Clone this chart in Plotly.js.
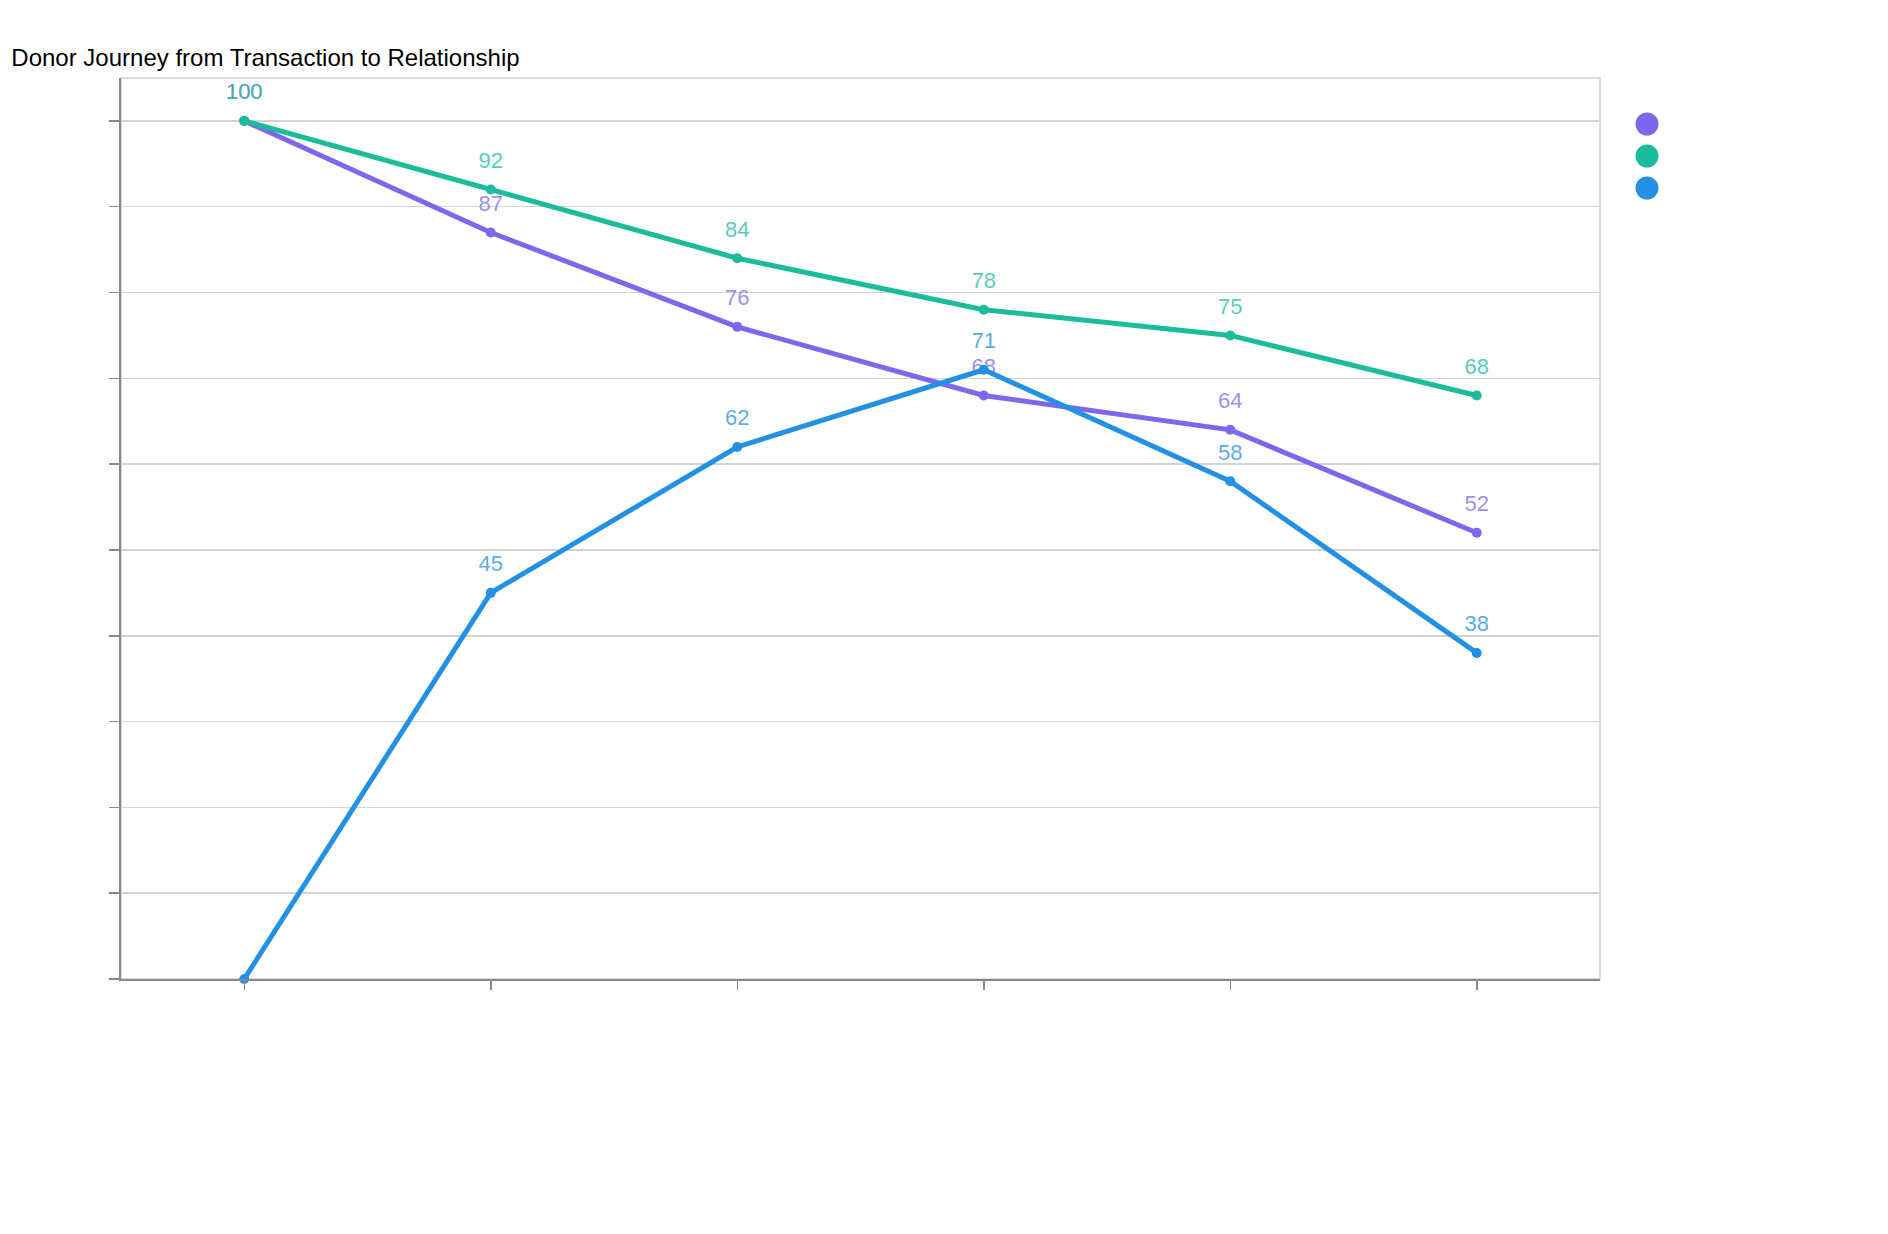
<!DOCTYPE html>
<html>
<head>
<meta charset="utf-8">
<script src="https://cdn.plot.ly/plotly-3.0.1.min.js"></script>
<style>html,body{margin:0;padding:0;background:#fff;}#chart{width:1888px;height:1234px;}</style>
</head>
<body>
<div id="chart"></div>
<script>
// Journey stages (axis labels are not shown in the chart)
var stages = ["Stage 1", "Stage 2", "Stage 3", "Stage 4", "Stage 5", "Stage 6"];
var seriesNames = ["Retention", "Engagement", "Relationship"];
var seriesColors = ["#7B68EE", "#1ABC9C", "#2290E3"];
var textColors = ["rgba(123,104,238,0.75)", "rgba(26,188,156,0.75)", "rgba(34,144,227,0.75)"];
var retention = [100, 87, 76, 68, 64, 52];
var engagement = [100, 92, 84, 78, 75, 68];
var relationship = [0, 45, 62, 71, 58, 38];
var relationshipLabels = ["", "45", "62", "71", "58", "38"];

var values = [retention, engagement, relationship];
var labels = [retention.map(String), engagement.map(String), relationshipLabels];

var traces = [];
values.forEach(function (v, i) {
  traces.push({
    x: stages, y: v, name: seriesNames[i], type: "scatter", mode: "lines+markers",
    line: {color: seriesColors[i], width: 5},
    marker: {color: seriesColors[i], size: 10},
    cliponaxis: false, showlegend: false, hoverinfo: "x+y+name"
  });
  traces.push({
    x: stages, y: v, name: seriesNames[i], type: "scatter", mode: "markers+text",
    text: labels[i], textposition: "top center",
    textfont: {family: "Liberation Sans, Arial, sans-serif", size: 22, color: textColors[i]},
    marker: {color: "rgba(0,0,0,0)", size: 24},
    cliponaxis: false, showlegend: false, hoverinfo: "skip"
  });
});

var shapes = [{type: "rect", xref: "paper", yref: "paper", x0: 0, x1: 1, y0: 0, y1: 1,
  line: {color: "#dcdcdc", width: 2}, layer: "below"}];
seriesColors.forEach(function (c, i) {
  var cx = 1647, cy = 124 + i * 32, r = 11.5;
  shapes.push({type: "circle", xref: "paper", yref: "paper",
    x0: (cx - r - 121) / 1479, x1: (cx + r - 121) / 1479,
    y0: (979 - (cy + r)) / 901, y1: (979 - (cy - r)) / 901,
    fillcolor: c, line: {width: 0}});
});

var layout = {
  width: 1888, height: 1234,
  margin: {l: 121, r: 288, t: 78, b: 255},
  paper_bgcolor: "#fff", plot_bgcolor: "#fff",
  font: {family: "Liberation Sans, Arial, sans-serif", size: 16, color: "#000"},
  title: {text: "Donor Journey from Transaction to Relationship", x: 0.006, xanchor: "left",
    y: 0.953, yanchor: "middle", font: {size: 24, color: "#000"}},
  xaxis: {range: [-0.5, 5.5], showticklabels: false, showgrid: false, ticks: "outside",
    ticklen: 9, tickwidth: 1.5, tickcolor: "#888", showline: true, linecolor: "#888", linewidth: 2,
    zeroline: false, fixedrange: true},
  yaxis: {range: [0, 105], dtick: 10, tick0: 0, showticklabels: false, showgrid: true,
    gridcolor: "#d3d3d3", gridwidth: 1.5, ticks: "outside", ticklen: 10, tickwidth: 1.5,
    tickcolor: "#888", showline: true, linecolor: "#888", linewidth: 2, zeroline: false, fixedrange: true},
  shapes: shapes,
  showlegend: false
};

Plotly.newPlot("chart", traces, layout, {displayModeBar: false, staticPlot: true});
</script>
</body>
</html>
